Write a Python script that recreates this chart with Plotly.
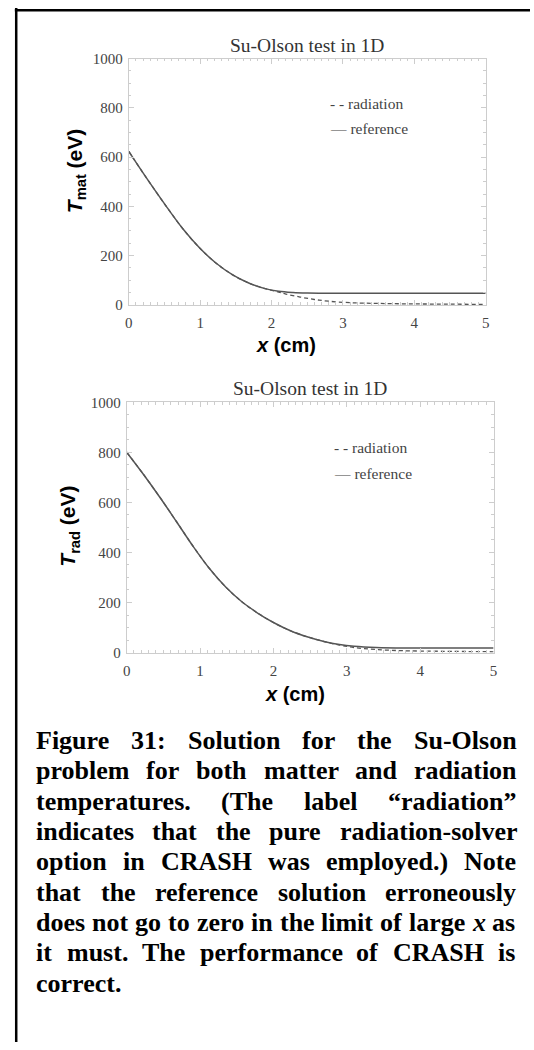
import plotly.graph_objects as go

# ---------------- data ----------------
# Top panel: matter temperature
x_mat_ref = [0, 0.15, 0.3, 0.53, 0.76, 0.99, 1.22, 1.45, 1.68, 1.91, 2.1, 2.3, 2.5, 3.0, 3.5, 4.0, 4.5, 5.0]
t_mat_ref = [623, 557, 493, 398, 308, 232, 170, 123, 89, 66, 55, 50, 48, 47, 47, 47, 47, 47]
x_mat_rad = [0, 0.15, 0.3, 0.53, 0.76, 0.99, 1.22, 1.45, 1.68, 1.91, 2.1, 2.2, 2.4, 2.6, 2.8, 3.1, 3.5, 4.0, 4.5, 5.0]
t_mat_rad = [623, 557, 493, 398, 308, 232, 170, 123, 89, 66, 52, 44, 32, 22, 15, 9, 6, 4, 3, 2]

# Bottom panel: radiation temperature
x_rad_ref = [0, 0.23, 0.45, 0.68, 0.9, 1.12, 1.35, 1.57, 1.8, 2.02, 2.24, 2.47, 2.69, 2.9, 3.1, 3.4, 3.8, 4.3, 5.0]
t_rad_ref = [801, 712, 622, 523, 427, 339, 262, 203, 155, 117, 86, 62, 44, 32, 25, 20, 18, 18, 18]
x_rad_rad = [0, 0.23, 0.45, 0.68, 0.9, 1.12, 1.35, 1.57, 1.8, 2.02, 2.24, 2.47, 2.69, 2.9, 3.1, 3.4, 3.8, 4.3, 5.0]
t_rad_rad = [801, 712, 622, 523, 427, 339, 262, 203, 155, 117, 86, 62, 44, 30, 20, 12, 7, 5, 3]

x_ticks = [0, 1, 2, 3, 4, 5]
y_ticks = [0, 200, 400, 600, 800, 1000]

panel_title = "Su-Olson test in 1D"
legend_labels = ["- - radiation", "\u2014 reference"]

caption_lines = [
    "Figure 31: Solution for the Su-Olson",
    "problem for both matter and radiation",
    "temperatures. (The label \u201cradiation\u201d",
    "indicates that the pure radiation-solver",
    "option in CRASH was employed.) Note",
    "that the reference solution erroneously",
    "does not go to zero in the limit of large x as",
    "it must. The performance of CRASH is",
    "correct.",
]

# ---------------- layout helpers ----------------
W, H = 534, 1050


def px(xp):
    return xp / W


def py(yp):
    return 1 - yp / H


LINE = "#555555"
FRAME = "#cdcdcd"
TICKFONT = dict(family="Liberation Serif", size=15, color="#444444")

fig = go.Figure()

fig.add_trace(go.Scatter(x=x_mat_ref, y=t_mat_ref, mode="lines", name="reference",
                         line=dict(color=LINE, width=1.5), line_shape="spline",
                         xaxis="x", yaxis="y", showlegend=False))
fig.add_trace(go.Scatter(x=x_mat_rad, y=t_mat_rad, mode="lines", name="radiation",
                         line=dict(color=LINE, width=1.3, dash="4px,3px"), line_shape="spline",
                         xaxis="x", yaxis="y", showlegend=False))
fig.add_trace(go.Scatter(x=x_rad_ref, y=t_rad_ref, mode="lines", name="reference",
                         line=dict(color=LINE, width=1.5), line_shape="spline",
                         xaxis="x2", yaxis="y2", showlegend=False))
fig.add_trace(go.Scatter(x=x_rad_rad, y=t_rad_rad, mode="lines", name="radiation",
                         line=dict(color=LINE, width=1.3, dash="4px,3px"), line_shape="spline",
                         xaxis="x2", yaxis="y2", showlegend=False))


def xaxis(domain, anchor):
    return dict(domain=domain, anchor=anchor, range=[0, 5], tickvals=x_ticks,
                ticks="inside", ticklen=5, tickcolor=FRAME, tickwidth=1,
                showline=True, linecolor=FRAME, linewidth=1, mirror="allticks",
                showgrid=False, zeroline=False, tickfont=TICKFONT, ticklabelstandoff=4,
                minor=dict(dtick=0.1, ticks="inside", ticklen=2.5, tickcolor=FRAME, showgrid=False))


def yaxis(domain, anchor):
    return dict(domain=domain, anchor=anchor, range=[0, 1000], tickvals=y_ticks,
                ticks="inside", ticklen=5, tickcolor=FRAME, tickwidth=1,
                showline=True, linecolor=FRAME, linewidth=1, mirror="allticks",
                showgrid=False, zeroline=False, tickfont=TICKFONT, ticklabelstandoff=2,
                minor=dict(dtick=50, ticks="inside", ticklen=2.5, tickcolor=FRAME, showgrid=False))


fig.update_layout(
    width=W, height=H, margin=dict(l=0, r=0, t=0, b=0),
    paper_bgcolor="white", plot_bgcolor="white",
    xaxis=xaxis([px(126.7), px(489)], "y"),
    yaxis=yaxis([py(301.5), py(51.3)], "x"),
    xaxis2=xaxis([px(124.5), px(497)], "y2"),
    yaxis2=yaxis([py(654.5), py(400.5)], "x2"),
)

ann = []
# panel titles
for xc, yc in [(307.4, 37.7), (311, 386.7)]:
    ann.append(dict(x=px(xc), y=py(yc), xref="paper", yref="paper", text=panel_title,
                    showarrow=False, xanchor="center", yanchor="middle",
                    font=dict(family="Liberation Serif", size=19.5, color="#333333")))
# x-axis titles
for xc, yc in [(286.7, 342.7), (295.6, 696.7)]:
    ann.append(dict(x=px(xc), y=py(yc), xref="paper", yref="paper", text="<i>x</i> (cm)",
                    showarrow=False, xanchor="center", yanchor="middle",
                    font=dict(family="Liberation Sans", size=20, color="black", weight="bold")))
# y-axis titles
for xc, yc, sub in [(73, 165.8, "mat"), (66, 526.7, "rad")]:
    ann.append(dict(x=px(xc), y=py(yc), xref="paper", yref="paper",
                    text="<i>T</i><sub>" + sub + "</sub> (eV)", textangle=-90,
                    showarrow=False, xanchor="center", yanchor="middle",
                    font=dict(family="Liberation Sans", size=21, color="black", weight="bold")))
# legends
for xl, ys in [(329.7, (96.7, 122.7)), (333.8, (446.7, 472.3))]:
    for lab, yc in zip(legend_labels, ys):
        ann.append(dict(x=px(xl), y=py(yc), xref="paper", yref="paper", text=lab,
                        showarrow=False, xanchor="left", yanchor="middle", borderpad=0,
                        font=dict(family="Liberation Serif", size=15.5, color="#444444")))

# caption: justified lines, Times-Bold advance widths (1/1000 em)
TB = {' ': 250, '(': 333, ')': 333, ',': 250, '-': 333, '.': 250, ':': 333,
      '1': 500, '3': 500, 'A': 722, 'C': 722, 'F': 611, 'H': 778, 'N': 722, 'O': 778,
      'R': 722, 'S': 556, 'T': 667, 'a': 500, 'b': 556, 'c': 444, 'd': 556, 'e': 444,
      'f': 333, 'g': 500, 'h': 556, 'i': 278, 'l': 278, 'm': 833, 'n': 556, 'o': 500,
      'p': 556, 'r': 444, 's': 389, 't': 333, 'u': 556, 'v': 500, 'w': 722, 'x': 500,
      'y': 500, 'z': 444, '\u201c': 500, '\u201d': 500}
FS = 26
LEFT, RIGHT = 32.4, 518.7
Y0, DY = 744.0, 30.8
cap_font = dict(family="Liberation Serif", size=FS, color="black", weight="bold")

for k, line in enumerate(caption_lines):
    words = line.split(" ")
    widths = [sum(TB.get(c, 500) for c in w) * FS / 1000 for w in words]
    yc = Y0 + DY * k
    if k == len(caption_lines) - 1 or len(words) == 1:
        gap = TB[' '] * FS / 1000
    else:
        gap = (RIGHT - LEFT - sum(widths)) / (len(words) - 1)
    xpos = LEFT
    for w, wd in zip(words, widths):
        txt = "<i>x</i>" if (w == "x" and k == 6) else w
        ann.append(dict(x=px(xpos), y=py(yc), xref="paper", yref="paper", text=txt,
                        showarrow=False, xanchor="left", yanchor="middle",
                        borderpad=0, borderwidth=0, font=cap_font))
        xpos += wd + gap

fig.update_layout(annotations=ann)

# outer frame (top and left edges of the page box)
fig.add_shape(type="line", xref="paper", yref="paper", x0=px(11), x1=1, y0=py(2.2), y1=py(2.2),
              line=dict(color="black", width=2.5))
fig.add_shape(type="line", xref="paper", yref="paper", x0=px(12.4), x1=px(12.4), y0=py(0), y1=0,
              line=dict(color="black", width=2.5))

fig.write_html("out.html",
               post_script="document.body.style.margin='0';document.body.style.overflow='hidden';")
